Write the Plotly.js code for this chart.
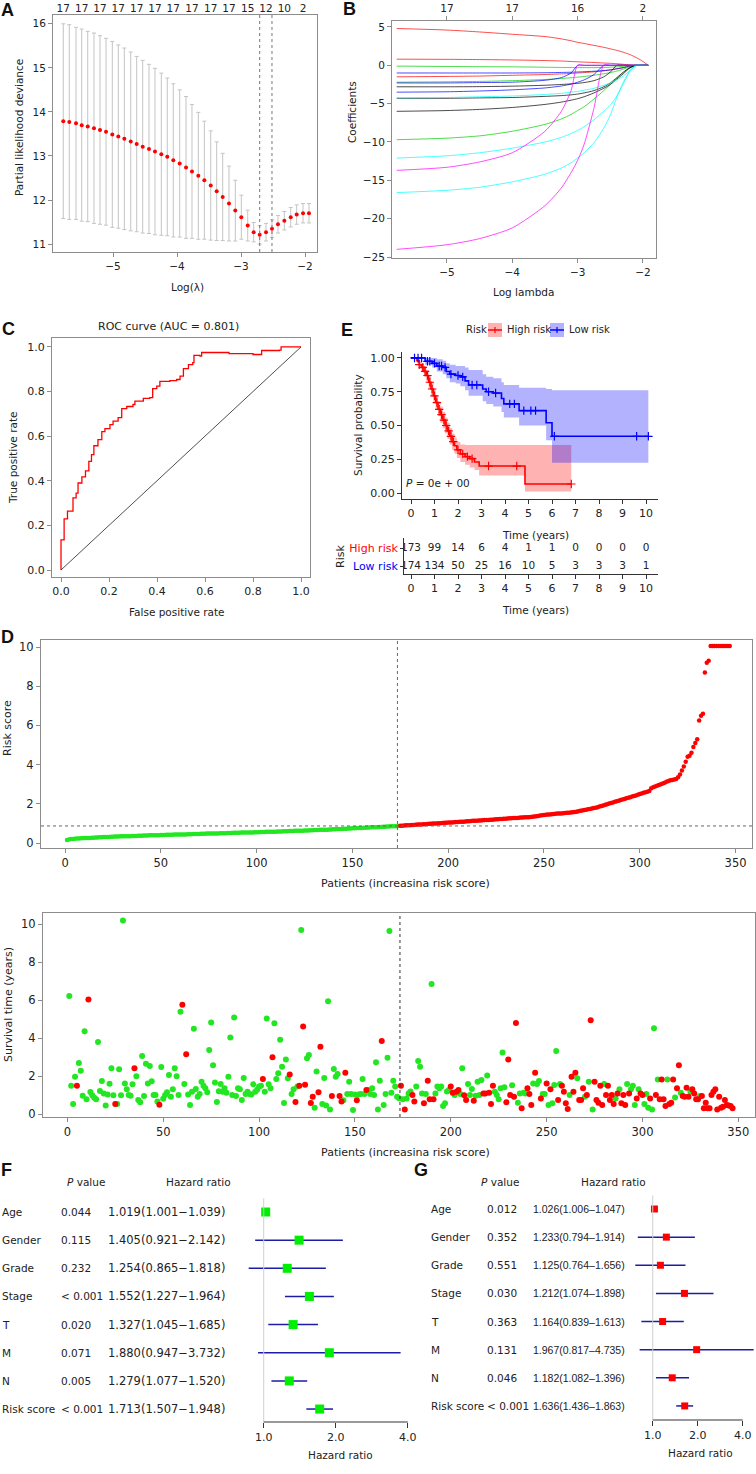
<!DOCTYPE html>
<html>
<head>
<meta charset="utf-8">
<script src="https://cdn.plot.ly/plotly-3.0.1.min.js"></script>
<style>html,body{margin:0;padding:0;background:#fff}#fig{width:756px;height:1474px}</style>
</head>
<body>
<div id="fig"></div>
<script>
"use strict";
const W = 756, H = 1474;
const FONT = "DejaVu Sans, Verdana, sans-serif";
const ARIAL = "Liberation Sans, Arial, sans-serif";
const RED = "#ff0000", GREEN = "#22e622", NAVY = "#1c1ca8";

// ---- A: cross-validated partial likelihood deviance
const aLogLambda = [-5.777,-5.683,-5.578,-5.489,-5.395,-5.297,-5.203,-5.109,-5.011,-4.917,
  -4.823,-4.723,-4.630,-4.536,-4.438,-4.344,-4.245,-4.152,-4.058,-3.958,
  -3.859,-3.766,-3.667,-3.573,-3.473,-3.380,-3.286,-3.188,-3.089,-2.995,
  -2.895,-2.802,-2.708,-2.609,-2.516,-2.422,-2.323,-2.223,-2.130,-2.031,-1.938];
const aDeviance = [13.79,13.77,13.74,13.70,13.67,13.63,13.59,13.55,13.49,13.44,
  13.39,13.33,13.27,13.21,13.16,13.10,13.04,12.98,12.90,12.83,
  12.74,12.65,12.55,12.45,12.33,12.20,12.07,11.92,11.76,11.61,
  11.42,11.27,11.21,11.27,11.35,11.45,11.53,11.61,11.67,11.70,11.70];
const aDevSE = [2.21,2.21,2.18,2.18,2.16,2.16,2.14,2.12,2.11,2.08,
  2.06,2.03,1.99,1.96,1.92,1.89,1.84,1.79,1.74,1.67,
  1.61,1.52,1.44,1.34,1.24,1.12,0.99,0.85,0.69,0.50,
  0.35,0.22,0.21,0.20,0.20,0.20,0.21,0.22,0.22,0.22,0.22];
const aTopLL = [-5.777,-5.489,-5.203,-4.917,-4.630,-4.344,-4.058,-3.766,-3.473,-3.188,-2.895,-2.609,-2.323,-2.031];
const aTopCount = ["17","17","17","17","17","17","17","17","17","17","15","12","10","2"];
const aLambdaMin = -2.708, aLambda1se = -2.516;

// ---- B: lasso coefficient paths
const bLogLambda = [-5.77,-5.0,-4.5,-4.0,-3.5,-3.25,-3.1,-3.0,-2.9,-2.75,-2.6,-2.5,-2.4,-2.3,-2.2,-2.1,-2.0,-1.92];
const coefRedA = [4.8,4.6,4.35,4.05,3.75,3.45,3.2,3.0,2.85,2.6,2.35,2.15,1.95,1.7,1.4,1.0,0.5,0];
const coefRedB = [0.8,0.78,0.75,0.7,0.62,0.56,0.5,0.46,0.42,0.37,0.3,0.26,0.2,0.13,0.05,0,0,0];
const coefRedC = [-1.5,-1.45,-1.4,-1.3,-1.2,-1.12,-1.06,-1.0,-0.95,-0.85,-0.72,-0.6,-0.45,-0.3,-0.1,0,0,0];
const coefGreenA = [-0.1,-0.15,-0.18,-0.2,-0.25,-0.28,-0.29,-0.3,-0.3,-0.3,-0.28,-0.25,-0.2,-0.13,-0.05,0,0,0];
const coefGreenB = [-2.2,-2.15,-2.1,-2.0,-1.85,-1.72,-1.62,-1.55,-1.45,-1.3,-1.1,-0.95,-0.75,-0.5,-0.2,0,0,0];
const coefGreenC = [-9.7,-9.5,-9.2,-8.6,-7.7,-7.0,-6.4,-5.9,-5.4,-4.4,-3.3,-2.5,-1.7,-0.9,-0.3,0,0,0];
const coefBlueA = [-1.0,-1.0,-1.0,-1.0,-0.97,-0.93,-0.9,-0.87,-0.83,-0.77,-0.68,-0.6,-0.45,-0.3,-0.1,0,0,0];
const coefBlueB = [-2.3,-2.3,-2.25,-2.2,-1.95,-1.6,-1.0,0,0,0,0,0,0,0,0,0,0,0];
const coefBlueC = [-3.5,-3.45,-3.35,-3.2,-2.95,-2.7,-2.45,-2.2,-1.9,-1.2,0,0,0,0,0,0,0,0];
const coefBlackA = [-2.8,-2.8,-2.78,-2.72,-2.6,-2.5,-2.42,-2.35,-2.25,-2.0,-1.5,-0.9,0,0,0,0,0,0];
const coefBlackB = [-4.3,-4.3,-4.25,-4.2,-4.05,-3.95,-3.85,-3.75,-3.6,-3.3,-2.8,-2.3,-1.6,-0.9,-0.3,0,0,0];
const coefBlackC = [-6.0,-5.9,-5.75,-5.5,-5.1,-4.8,-4.55,-4.35,-4.1,-3.6,-3.0,-2.5,-1.8,-1.1,-0.35,0,0,0];
const coefCyanA = [-4.25,-4.2,-4.1,-4.0,-3.8,-3.65,-3.5,-3.4,-3.25,-3.0,-2.6,-2.3,-1.9,-1.4,-0.7,0,0,0];
const coefCyanB = [-12.1,-11.8,-11.4,-10.8,-10.0,-9.4,-8.9,-8.5,-8.0,-7.1,-6.0,-5.2,-4.0,-2.4,-0.8,0,0,0];
const coefCyanC = [-16.6,-16.3,-15.9,-15.2,-14.2,-13.4,-12.7,-12.1,-11.4,-10.1,-8.2,-6.5,-4.2,-2.2,-0.7,0,0,0];
const coefMagentaA = [-13.7,-13.3,-12.6,-11.4,-8.6,-6.0,-3.3,0,0,0,0,0,0,0,0,0,0,0];
const coefMagentaB = [-24.0,-23.4,-22.6,-21.2,-18.3,-16.0,-14.0,-12.4,-10.3,-5.6,0,0,0,0,0,0,0,0];
const bTopTicks = [-5,-4,-3,-2];
const bTopCount = ["17","17","16","2"];

// ---- C: ROC curve
const rocFpr = [0,0,0.013,0.013,0.027,0.027,0.047,0.05,0.063,0.071,0.087,0.087,0.102,0.102,0.113,0.116,0.127,0.137,
  0.154,0.154,0.17,0.183,0.204,0.217,0.238,0.253,0.274,0.3,0.308,0.343,0.37,0.382,0.399,0.412,0.454,0.482,0.496,
  0.51,0.531,0.549,0.554,0.579,0.586,0.62,0.7,0.8,0.829,0.836,0.91,0.917,0.996,1];
const rocTpr = [0,0.135,0.135,0.229,0.229,0.264,0.264,0.323,0.345,0.39,0.39,0.417,0.417,0.444,0.444,0.487,0.517,0.557,
  0.557,0.584,0.62,0.634,0.652,0.667,0.683,0.723,0.733,0.742,0.757,0.769,0.773,0.813,0.824,0.846,0.849,0.854,0.869,
  0.903,0.921,0.93,0.962,0.959,0.975,0.975,0.97,0.966,0.966,0.984,0.986,1.0,1.0,1.0];
const rocAuc = 0.801;

// ---- E: Kaplan-Meier by risk group
const highTime = [0,0.25,0.35,0.45,0.55,0.65,0.75,0.85,0.95,1.05,1.15,1.25,1.35,1.45,1.55,1.65,1.75,1.85,1.95,2.1,2.3,2.5,2.7,2.9,4.85,6.82];
const highSurv = [1.0,0.98,0.95,0.93,0.9,0.87,0.82,0.77,0.72,0.67,0.62,0.58,0.54,0.5,0.46,0.42,0.38,0.35,0.32,0.29,0.27,0.255,0.23,0.2,0.067,0.067];
const highUpper = [1.0,1.0,0.98,0.96,0.94,0.91,0.87,0.82,0.77,0.72,0.68,0.64,0.6,0.56,0.52,0.48,0.44,0.41,0.38,0.36,0.355,0.355,0.355,0.355,0.355,0.355];
const highLower = [1.0,0.96,0.92,0.9,0.86,0.83,0.77,0.72,0.67,0.62,0.57,0.52,0.48,0.44,0.4,0.36,0.32,0.29,0.26,0.23,0.21,0.19,0.17,0.13,0.012,0.012];
const lowTime = [0,0.6,0.9,1.1,1.35,1.5,1.65,1.9,2.1,2.3,2.45,3.05,3.2,3.5,3.85,3.95,4.6,5.75,6.0,10.1];
const lowSurv = [1.0,0.975,0.96,0.94,0.93,0.9,0.88,0.87,0.86,0.83,0.8,0.77,0.75,0.74,0.7,0.66,0.61,0.52,0.42,0.42];
const lowUpper = [1.0,1.0,1.0,0.99,0.98,0.96,0.95,0.94,0.94,0.93,0.91,0.88,0.86,0.85,0.82,0.8,0.78,0.77,0.76,0.76];
const lowLower = [1.0,0.95,0.93,0.9,0.88,0.85,0.82,0.81,0.79,0.76,0.72,0.68,0.66,0.64,0.6,0.56,0.5,0.39,0.225,0.225];
const highCensor = [0.35,0.5,0.6,0.7,0.8,0.9,1.0,1.1,1.2,1.3,1.4,1.5,1.6,1.7,1.8,2.0,2.2,2.4,2.6,3.3,4.5,6.82];
const lowCensor = [0.15,0.3,0.45,0.7,0.8,1.0,1.2,1.3,1.45,1.7,2.0,2.2,2.6,2.8,3.3,3.6,4.2,4.4,4.8,5.1,5.3,6.1,9.6,10.1];
const tableTimes = [0,1,2,3,4,5,6,7,8,9,10];
const highAtRisk = [173,99,14,6,4,1,1,0,0,0,0];
const lowAtRisk = [174,134,50,25,16,10,5,3,3,3,1];
const logRankP = "0e + 00";

// ---- D: risk score distribution and survival status (patients ranked by risk)
const lowCount = 174;
const riskCutoff = 0.87;
const riskScore = [
  0.15,0.18,0.2,0.21,0.22,0.23,0.23,0.24,0.24,0.25,
  0.25,0.26,0.26,0.27,0.27,0.28,0.28,0.29,0.29,0.3,
  0.3,0.31,0.31,0.32,0.32,0.33,0.33,0.33,0.34,0.34,
  0.34,0.35,0.35,0.35,0.36,0.36,0.36,0.37,0.37,0.37,
  0.38,0.38,0.38,0.39,0.39,0.39,0.4,0.4,0.4,0.41,
  0.41,0.41,0.42,0.42,0.42,0.42,0.43,0.43,0.43,0.44,
  0.44,0.44,0.44,0.45,0.45,0.45,0.46,0.46,0.46,0.46,
  0.47,0.47,0.47,0.48,0.48,0.48,0.48,0.49,0.49,0.49,
  0.5,0.5,0.5,0.5,0.51,0.51,0.51,0.52,0.52,0.52,
  0.52,0.53,0.53,0.53,0.53,0.54,0.54,0.54,0.55,0.55,
  0.55,0.56,0.56,0.56,0.57,0.57,0.57,0.58,0.58,0.58,
  0.59,0.59,0.59,0.6,0.6,0.6,0.61,0.61,0.61,0.62,
  0.62,0.62,0.63,0.63,0.64,0.64,0.64,0.65,0.65,0.66,
  0.66,0.66,0.67,0.67,0.68,0.68,0.68,0.69,0.69,0.7,
  0.7,0.71,0.71,0.72,0.72,0.73,0.73,0.74,0.74,0.75,
  0.75,0.76,0.76,0.77,0.77,0.78,0.78,0.79,0.79,0.8,
  0.8,0.81,0.81,0.82,0.82,0.83,0.83,0.84,0.84,0.85,
  0.85,0.86,0.86,0.87,0.88,0.88,0.89,0.9,0.9,0.91,
  0.92,0.92,0.93,0.94,0.94,0.95,0.96,0.96,0.97,0.98,
  0.98,0.99,1.0,1.0,1.01,1.01,1.02,1.03,1.03,1.04,
  1.05,1.05,1.06,1.07,1.07,1.08,1.09,1.09,1.1,1.11,
  1.11,1.12,1.13,1.13,1.14,1.15,1.15,1.16,1.17,1.17,
  1.18,1.19,1.19,1.2,1.21,1.21,1.22,1.23,1.24,1.24,
  1.25,1.26,1.26,1.27,1.28,1.28,1.29,1.3,1.3,1.31,
  1.32,1.32,1.33,1.34,1.35,1.36,1.38,1.4,1.41,1.43,
  1.44,1.45,1.46,1.47,1.48,1.49,1.5,1.5,1.51,1.52,
  1.53,1.54,1.55,1.56,1.57,1.58,1.6,1.62,1.64,1.66,
  1.68,1.7,1.72,1.74,1.76,1.78,1.8,1.83,1.86,1.89,
  1.92,1.95,1.98,2.01,2.04,2.07,2.1,2.13,2.16,2.19,
  2.22,2.25,2.28,2.31,2.34,2.37,2.4,2.43,2.46,2.5,
  2.53,2.56,2.59,2.62,2.65,2.8,2.85,2.88,2.92,2.96,
  3.0,3.04,3.08,3.12,3.16,3.2,3.22,3.24,3.26,3.35,
  3.5,3.7,3.9,4.15,4.4,4.45,4.6,4.9,5.1,5.3,
  6.25,6.5,6.6,8.7,9.2,9.3,10.05,10.05,10.05,10.05,
  10.05,10.05,10.05,10.05,10.05,10.05,10.05];
const survYears = [
  6.23,1.5,0.54,1.98,1.5,2.7,2.3,0.98,4.37,0.79,
  6.04,1.18,1.0,0.88,0.79,3.81,1.23,1.75,1.1,0.46,
  1.05,1.61,2.42,1.0,0.54,0.54,2.37,1.0,10.2,1.63,
  1.32,1.02,0.98,1.58,2.42,2.0,0.75,0.63,3.07,0.96,
  2.67,1.63,2.54,1.74,1.02,1.02,0.67,0.51,2.49,0.82,
  1.02,1.16,2.07,0.93,1.32,2.42,2.0,1.02,5.4,5.77,
  1.6,3.16,1.04,0.49,1.19,4.5,1.33,0.93,1.07,1.72,
  1.5,1.37,1.16,3.39,4.84,2.58,1.67,0.65,1.21,1.6,
  1.19,1.37,1.14,1.98,4.05,1.02,5.1,0.96,1.37,1.32,
  0.75,1.91,1.07,1.19,1.07,1.04,1.58,1.19,1.3,1.46,
  1.5,1.86,1.19,5.05,1.58,1.37,3.0,4.8,1.86,2.16,
  3.93,2.51,0.6,2.89,1.9,2.1,1.07,1.32,0.65,1.46,
  1.5,9.7,4.63,1.56,2.95,3.12,0.6,0.93,0.35,2.25,
  1.16,3.56,0.54,1.91,0.46,5.95,0.26,0.96,2.39,1.98,
  2.12,0.96,0.67,0.74,2.19,1.07,1.72,1.07,0.23,1.05,
  0.74,1.05,1.07,1.86,1.07,1.28,1.28,1.07,1.37,1.02,
  2.74,0.26,1.77,3.86,0.49,1.07,2.98,9.65,1.14,1.77,
  1.46,0.93,0.85,1.5,0.79,0.26,0.84,1.1,1.2,1.02,
  0.67,1.46,2.81,2.51,1.1,0.58,1.07,1.77,0.79,6.86,
  0.79,1.1,1.46,1.37,1.46,0.44,0.58,1.2,1.28,1.46,
  1.14,1.02,1.19,1.28,1.07,2.42,1.0,0.75,1.6,1.02,
  1.33,0.72,0.98,1.72,1.02,1.81,1.1,1.1,2.04,1.14,
  0.54,1.51,1.19,1.02,0.79,1.37,3.26,1.42,0.63,2.89,
  1.02,1.53,0.93,4.81,0.61,1.1,0.32,1.14,1.1,1.37,
  1.07,0.49,1.63,2.19,1.6,1.75,0.84,1.07,1.07,1.63,
  0.49,1.32,0.58,1.54,3.33,0.75,1.6,1.51,1.19,0.58,
  0.28,1.02,1.98,1.19,2.19,1.9,0.75,0.75,1.37,0.93,
  1.02,1.72,4.96,0.26,1.72,0.75,0.61,1.51,0.49,1.6,
  1.02,1.51,0.75,1.02,0.54,0.84,1.1,1.32,0.58,1.02,
  0.49,1.6,1.1,1.32,1.51,0.49,0.84,1.32,1.1,1.02,
  0.54,1.07,0.35,0.84,0.26,4.53,1.02,1.84,0.79,1.84,
  0.79,0.44,1.84,0.54,0.61,1.84,0.89,1.37,2.58,1.14,
  0.96,0.93,1.4,0.93,1.19,1.32,1.1,0.79,0.79,0.96,
  0.96,0.32,0.61,0.32,0.32,1.02,1.19,1.32,0.26,0.93,
  0.35,0.4,0.75,0.49,0.46,0.44,0.32];
const survDead = [
  0,0,0,0,1,0,0,0,0,0, 1,0,0,0,0,0,0,0,0,0, 0,0,0,0,1,0,0,0,0,0, 0,0,0,0,1,0,0,0,0,0,
  0,0,0,0,0,0,0,1,0,0, 0,0,0,0,0,0,0,0,0,1, 0,1,0,0,0,0,0,0,0,0, 0,0,0,0,0,0,0,0,0,0,
  0,0,0,0,0,0,0,0,0,0, 0,0,0,0,0,0,0,0,0,0, 0,1,0,0,0,0,1,0,0,0, 0,0,0,0,0,1,0,0,1,0,
  1,0,1,1,0,0,1,1,0,0, 1,1,0,0,0,0,0,1,0,0, 0,1,1,0,1,0,0,0,0,0, 1,0,0,0,0,1,0,0,0,0,
  0,0,0,1,0,0,0,0,0,0, 0,0,0,1,0,1,0,0,0,1, 1,0,0,0,0,1,0,1,1,0, 1,0,0,0,0,0,0,0,0,1,
  1,0,1,1,0,0,1,1,0,0, 0,1,0,0,0,0,1,1,0,1, 1,1,0,0,0,0,0,0,1,1, 1,0,1,1,0,0,1,0,0,1,
  1,1,0,1,0,0,1,0,0,1, 0,1,0,0,0,1,0,1,1,1, 1,0,1,1,1,0,1,1,1,0, 1,0,1,0,1,1,1,1,1,0,
  1,1,1,1,1,0,1,0,1,1, 1,0,1,0,0,0,1,0,1,1, 0,0,0,1,0,0,1,0,1,1, 1,1,0,1,1,1,0,1,1,0,
  1,1,1,1,0,1,1,1,1,0, 1,1,1,1,1,1,1,1,1,1, 1,1,1,1,1,1,1];

// ---- F: univariate Cox
const forestVars = ["Age","Gender","Grade","Stage","T","M","N","Risk score"];
const fP = ["0.044","0.115","0.232","< 0.001","0.020","0.071","0.005","< 0.001"];
const fHr = [1.019,1.405,1.254,1.552,1.327,1.880,1.279,1.713];
const fLo = [1.001,0.921,0.865,1.227,1.045,0.947,1.077,1.507];
const fHi = [1.039,2.142,1.818,1.964,1.685,3.732,1.520,1.948];

// ---- G: multivariate Cox (printed text and drawn marks as they appear)
const gP = ["0.012","0.352","0.551","0.030","0.363","0.131","0.046","< 0.001"];
const gHr = [1.026,1.233,1.125,1.212,1.164,1.967,1.182,1.636];
const gLo = [1.006,0.794,0.764,1.074,0.839,0.817,1.082,1.436];
const gHi = [1.047,1.914,1.656,1.898,1.613,4.735,1.396,1.863];
const gMarkHr = [1.026,1.233,1.125,1.63,1.164,1.967,1.35,1.636];
const gMarkLo = [1.006,0.794,0.764,1.05,0.839,0.817,1.05,1.436];
const gMarkHi = [1.047,1.914,1.656,2.55,1.613,4.735,1.75,1.863];

// ---------- helpers
const dx = (l, r) => [l / W, r / W];
const dy = (t, b) => [1 - b / H, 1 - t / H];
function note(x, y, text, o) {
  o = o || {};
  return Object.assign({xref: "paper", yref: "paper", x: x / W, y: 1 - y / H, text: text,
    showarrow: false, xanchor: "center", yanchor: "middle",
    font: {family: FONT, size: 10, color: "#222"}}, o);
}
function stepAt(ts, ss, t) {
  let v = ss[0];
  for (let i = 0; i < ts.length; i++) if (ts[i] <= t) v = ss[i];
  return v;
}
const rows = forestVars.map((v, i) => i + 1);
const fmt = v => v.toFixed(3);
const tf = s => ({family: FONT, size: s, color: "#222"});

const boxAx = {showline: true, mirror: true, linecolor: "#8c8c8c", linewidth: 1, ticks: "outside",
  ticklen: 4, tickcolor: "#8c8c8c", showgrid: false, zeroline: false, tickfont: tf(10.5)};
const classicAx = {showline: true, mirror: false, linecolor: "#333", linewidth: 1, ticks: "outside",
  ticklen: 4, tickcolor: "#333", showgrid: false, zeroline: false, tickfont: tf(11)};

const traces = [];

// A
traces.push({type: "scatter", mode: "markers", x: aLogLambda, y: aDeviance, xaxis: "x", yaxis: "y",
  marker: {color: RED, size: 4},
  error_y: {type: "data", array: aDevSE, color: "#c4c4c4", thickness: 1, width: 2}});
traces.push({type: "scatter", mode: "markers", x: aTopLL, y: aTopLL.map(() => null), xaxis: "x2", yaxis: "y",
  hoverinfo: "skip"});

// B
const bPaths = [
  [coefRedA, "#ff0000"], [coefRedB, "#ff0000"], [coefRedC, "#ff0000"],
  [coefGreenA, "#00cd00"], [coefGreenB, "#00cd00"], [coefGreenC, "#00cd00"],
  [coefBlueA, "#0000ff"], [coefBlueB, "#0000ff"], [coefBlueC, "#0000ff"],
  [coefBlackA, "#000000"], [coefBlackB, "#000000"], [coefBlackC, "#000000"],
  [coefCyanA, "#00ffff"], [coefCyanB, "#00ffff"], [coefCyanC, "#00ffff"],
  [coefMagentaA, "#ff00ff"], [coefMagentaB, "#ff00ff"]];
bPaths.forEach(p => traces.push({type: "scatter", mode: "lines", x: bLogLambda, y: p[0],
  xaxis: "x3", yaxis: "y3", line: {color: p[1], width: 1, shape: "spline", smoothing: 0.7}, opacity: 0.7}));
traces.push({type: "scatter", mode: "markers", x: bTopTicks, y: bTopTicks.map(() => null), xaxis: "x4", yaxis: "y3",
  hoverinfo: "skip"});

// C
traces.push({type: "scatter", mode: "lines", x: rocFpr, y: rocTpr, xaxis: "x5", yaxis: "y5",
  line: {color: RED, width: 1.3, shape: "hv"}});

// E bands and curves
traces.push({type: "scatter", mode: "lines", x: highTime, y: highLower, xaxis: "x6", yaxis: "y6",
  line: {width: 0, shape: "hv"}, hoverinfo: "skip"});
traces.push({type: "scatter", mode: "lines", x: highTime, y: highUpper, xaxis: "x6", yaxis: "y6",
  line: {width: 0, shape: "hv"}, fill: "tonexty", fillcolor: "rgba(255,0,0,0.3)", hoverinfo: "skip"});
traces.push({type: "scatter", mode: "lines", x: lowTime, y: lowLower, xaxis: "x6", yaxis: "y6",
  line: {width: 0, shape: "hv"}, hoverinfo: "skip"});
traces.push({type: "scatter", mode: "lines", x: lowTime, y: lowUpper, xaxis: "x6", yaxis: "y6",
  line: {width: 0, shape: "hv"}, fill: "tonexty", fillcolor: "rgba(0,0,255,0.3)", hoverinfo: "skip"});
traces.push({type: "scatter", mode: "lines", x: highTime, y: highSurv, xaxis: "x6", yaxis: "y6",
  line: {color: RED, width: 1.6, shape: "hv"}});
traces.push({type: "scatter", mode: "lines", x: lowTime, y: lowSurv, xaxis: "x6", yaxis: "y6",
  line: {color: "#0000ff", width: 1.6, shape: "hv"}});
traces.push({type: "scatter", mode: "markers", x: highCensor, y: highCensor.map(t => stepAt(highTime, highSurv, t)),
  xaxis: "x6", yaxis: "y6", marker: {symbol: "cross-thin", size: 6, line: {color: RED, width: 1.2}}});
traces.push({type: "scatter", mode: "markers", x: lowCensor, y: lowCensor.map(t => stepAt(lowTime, lowSurv, t)),
  xaxis: "x6", yaxis: "y6", marker: {symbol: "cross-thin", size: 6, line: {color: "#0000ff", width: 1.2}}});

// E risk table
traces.push({type: "scatter", mode: "text", x: tableTimes, y: tableTimes.map(() => 2), text: highAtRisk.map(String),
  xaxis: "x7", yaxis: "y7", textfont: tf(10.5)});
traces.push({type: "scatter", mode: "text", x: tableTimes, y: tableTimes.map(() => 1), text: lowAtRisk.map(String),
  xaxis: "x7", yaxis: "y7", textfont: tf(10.5)});

// D top: risk score
const rank = riskScore.map((v, i) => i + 1);
traces.push({type: "scatter", mode: "markers", x: rank.slice(0, lowCount), y: riskScore.slice(0, lowCount),
  xaxis: "x8", yaxis: "y8", marker: {color: GREEN, size: 4.5}});
traces.push({type: "scatter", mode: "markers", x: rank.slice(lowCount), y: riskScore.slice(lowCount),
  xaxis: "x8", yaxis: "y8", marker: {color: RED, size: 4.5}});

// D bottom: survival status
const aliveX = [], aliveY = [], deadX = [], deadY = [];
survYears.forEach((t, i) => {
  if (survDead[i]) { deadX.push(i + 1); deadY.push(t); } else { aliveX.push(i + 1); aliveY.push(t); }
});
traces.push({type: "scatter", mode: "markers", x: aliveX, y: aliveY, xaxis: "x9", yaxis: "y9",
  marker: {color: GREEN, size: 6}});
traces.push({type: "scatter", mode: "markers", x: deadX, y: deadY, xaxis: "x9", yaxis: "y9",
  marker: {color: RED, size: 6}});

// F and G forest marks
traces.push({type: "scatter", mode: "markers", x: fHr, y: rows, xaxis: "x10", yaxis: "y10",
  marker: {symbol: "square", size: 9, color: "#00ee00"},
  error_x: {type: "data", symmetric: false, array: fHi.map((v, i) => v - fHr[i]),
    arrayminus: fLo.map((v, i) => fHr[i] - v), color: NAVY, thickness: 1.5, width: 0}});
traces.push({type: "scatter", mode: "markers", x: gMarkHr, y: rows, xaxis: "x11", yaxis: "y11",
  marker: {symbol: "square", size: 7, color: RED},
  error_x: {type: "data", symmetric: false, array: gMarkHi.map((v, i) => v - gMarkHr[i]),
    arrayminus: gMarkLo.map((v, i) => gMarkHr[i] - v), color: NAVY, thickness: 1.5, width: 0}});

// ---------- layout
const ticks10 = [0,1,2,3,4,5,6,7,8,9,10];
const forestX = {type: "log", tickvals: [1, 2, 4], ticktext: ["1.0", "2.0", "4.0"], ticks: "outside",
  ticklen: 5, tickcolor: "#333", showline: false, showgrid: false, zeroline: false, tickfont: tf(11)};
const dTick = tf(11.5);

const layout = {
  width: W, height: H, margin: {l: 0, r: 0, t: 0, b: 0},
  paper_bgcolor: "#fff", plot_bgcolor: "rgba(0,0,0,0)", showlegend: false,
  font: {family: FONT, size: 10, color: "#222"},
  xaxis: Object.assign({}, boxAx, {domain: dx(53, 317), range: [-5.9375, -1.8125], tickvals: [-5, -4, -3, -2], anchor: "y"}),
  yaxis: Object.assign({}, boxAx, {domain: dy(15, 252), range: [10.82, 16.2], tickvals: [11, 12, 13, 14, 15, 16], anchor: "x"}),
  xaxis2: {overlaying: "x", side: "top", anchor: "y", range: [-5.9375, -1.8125], tickvals: aTopLL, ticktext: aTopCount,
    ticks: "", showline: false, showgrid: false, zeroline: false, tickfont: tf(10.5)},
  xaxis3: Object.assign({}, boxAx, {domain: dx(392, 656), range: [-5.842, -1.80], tickvals: [-5, -4, -3, -2], anchor: "y3"}),
  yaxis3: Object.assign({}, boxAx, {domain: dy(21, 258), range: [-25.13, 5.78], tickvals: [5, 0, -5, -10, -15, -20, -25], anchor: "x3"}),
  xaxis4: {overlaying: "x3", side: "top", anchor: "y3", range: [-5.842, -1.80], tickvals: bTopTicks, ticktext: bTopCount,
    ticks: "outside", ticklen: 4, tickcolor: "#8c8c8c", showline: false, showgrid: false, zeroline: false, tickfont: tf(10.5)},
  xaxis5: Object.assign({}, boxAx, {domain: dx(52, 310), range: [-0.0375, 1.0375], tickvals: [0, 0.2, 0.4, 0.6, 0.8, 1],
    tickformat: ".1f", anchor: "y5", tickfont: tf(11)}),
  yaxis5: Object.assign({}, boxAx, {domain: dy(338, 577), range: [-0.0314, 1.04], tickvals: [0, 0.2, 0.4, 0.6, 0.8, 1],
    tickformat: ".1f", anchor: "x5", tickfont: tf(11)}),
  xaxis6: Object.assign({}, classicAx, {domain: dx(402, 658), range: [-0.383, 10.51], tickvals: ticks10, anchor: "y6"}),
  yaxis6: Object.assign({}, classicAx, {domain: dy(352, 499), range: [-0.044, 1.044], tickvals: [0, 0.25, 0.5, 0.75, 1], tickformat: ".2f", anchor: "x6"}),
  xaxis7: Object.assign({}, classicAx, {domain: dx(404, 658), range: [-0.298, 10.51], tickvals: ticks10, anchor: "y7"}),
  yaxis7: Object.assign({}, classicAx, {domain: dy(538, 574), range: [0.556, 2.56], tickvals: [1, 2], ticklen: 3,
    ticktext: ['<span style="color:#0000ff">Low risk</span>', '<span style="color:#ff0000">High risk</span>'], anchor: "x7"}),
  xaxis8: Object.assign({}, boxAx, {domain: dx(41, 752), range: [-12.57, 358.6], tickvals: [0, 50, 100, 150, 200, 250, 300, 350], anchor: "y8", tickfont: dTick}),
  yaxis8: Object.assign({}, boxAx, {domain: dy(640, 848), range: [-0.255, 10.36], tickvals: [0, 2, 4, 6, 8, 10], anchor: "x8", tickfont: dTick}),
  xaxis9: Object.assign({}, boxAx, {domain: dx(43, 755), range: [-12.7, 358.7], tickvals: [0, 50, 100, 150, 200, 250, 300, 350], anchor: "y9", tickfont: dTick}),
  yaxis9: Object.assign({}, boxAx, {domain: dy(913, 1117), range: [-0.14, 10.6], tickvals: [0, 2, 4, 6, 8, 10], anchor: "x9", tickfont: dTick}),
  xaxis10: Object.assign({}, forestX, {domain: dx(240, 420), range: [-0.0991, 0.653], anchor: "y10"}),
  yaxis10: {domain: dy(1195, 1422), range: [8.46, 0.396], visible: false, anchor: "x10"},
  xaxis11: Object.assign({}, forestX, {domain: dx(625, 756), range: [-0.1858, 0.691], anchor: "y11"}),
  yaxis11: {domain: dy(1192, 1420), range: [8.5, 0.396], visible: false, anchor: "x11"},
  shapes: [], annotations: []
};

const S = layout.shapes, A = layout.annotations;
// A: lambda.min and lambda.1se
[aLambdaMin, aLambda1se].forEach(v => S.push({type: "line", xref: "x", yref: "y domain", x0: v, x1: v, y0: 0, y1: 1,
  line: {color: "#777", width: 1, dash: "dot"}}));
// C: chance diagonal
S.push({type: "line", xref: "x5", yref: "y5", x0: 0, y0: 0, x1: 1, y1: 1, line: {color: "#222", width: 0.8}});
// D: cut-off lines
S.push({type: "line", xref: "x8", yref: "y8 domain", x0: lowCount - 0.5, x1: lowCount - 0.5, y0: 0, y1: 1,
  line: {color: "#666", width: 1, dash: "dot"}});
S.push({type: "line", xref: "x8 domain", yref: "y8", x0: 0, x1: 1, y0: riskCutoff, y1: riskCutoff,
  line: {color: "#666", width: 1, dash: "dot"}});
S.push({type: "line", xref: "x9", yref: "y9 domain", x0: lowCount - 0.5, x1: lowCount - 0.5, y0: 0, y1: 1,
  line: {color: "#333", width: 1, dash: "dot"}});
// F, G: reference line and axis line
[["x10", "y10"], ["x11", "y11"]].forEach(p => {
  S.push({type: "line", xref: p[0], yref: p[1] + " domain", x0: 1, x1: 1, y0: 0, y1: 0.985, line: {color: "#cfcfcf", width: 1}});
  S.push({type: "line", xref: p[0], yref: p[1] + " domain", x0: 1, x1: 4, y0: 0, y1: 0, line: {color: "#333", width: 1}});
});
// E legend keys
[[488, "rgba(255,0,0,0.3)", RED], [550, "rgba(0,0,255,0.3)", "#0000ff"]].forEach(k => {
  const x0 = k[0] / W, x1 = (k[0] + 14) / W;
  S.push({type: "rect", xref: "paper", yref: "paper", x0: x0, x1: x1, y0: 1 - 337 / H, y1: 1 - 323 / H,
    fillcolor: k[1], line: {width: 0}});
  S.push({type: "line", xref: "paper", yref: "paper", x0: x0, x1: x1, y0: 1 - 330 / H, y1: 1 - 330 / H,
    line: {color: k[2], width: 1.5}});
  S.push({type: "line", xref: "paper", yref: "paper", x0: (x0 + x1) / 2, x1: (x0 + x1) / 2, y0: 1 - 333 / H, y1: 1 - 327 / H,
    line: {color: k[2], width: 1.2}});
});

// panel letters
const letter = {family: ARIAL, size: 18, color: "#111", weight: "bold"};
[["A", 7, 10], ["B", 349, 9], ["C", 8, 329], ["E", 347, 330], ["D", 7, 637], ["F", 6, 1170], ["G", 421, 1170]]
  .forEach(l => A.push(note(l[1], l[2], "<b>" + l[0] + "</b>", {font: letter})));

// axis titles
A.push(note(19, 128, "Partial likelihood deviance", {textangle: -90, font: tf(10.5)}));
A.push(note(187, 287, "Log(λ)", {font: tf(10.5)}));
A.push(note(352, 112, "Coefficients", {textangle: -90, font: tf(10.5)}));
A.push(note(523, 292, "Log lambda", {font: tf(10.5)}));
A.push(note(168, 326, "ROC curve (AUC = " + rocAuc.toFixed(3) + ")", {font: tf(11)}));
A.push(note(13, 458, "True positive rate", {textangle: -90, font: tf(10.5)}));
A.push(note(177, 612, "False positive rate", {font: tf(10.5)}));
A.push(note(358, 425, "Survival probability", {textangle: -90, font: tf(10.5)}));
A.push(note(535, 535, "Time (years)", {font: tf(10.5)}));
A.push(note(535, 610, "Time (years)", {font: tf(10.5)}));
A.push(note(340, 557, "Risk", {textangle: -90, font: tf(11)}));
A.push(note(7, 728, "Risk score", {textangle: -90, font: tf(11)}));
A.push(note(405, 883, "Patients (increasina risk score)", {font: tf(11)}));
A.push(note(9, 1005, "Survival time (years)", {textangle: -90, font: tf(11)}));
A.push(note(405, 1152, "Patients (increasina risk score)", {font: tf(11)}));

// E legend text and p-value
A.push(note(464, 330, "Risk", {xanchor: "left", font: tf(10)}));
A.push(note(505, 330, "High risk", {xanchor: "left", font: tf(10)}));
A.push(note(567, 330, "Low risk", {xanchor: "left", font: tf(10)}));
A.push({xref: "x6", yref: "y6", x: -0.3, y: 0.075, xanchor: "left", yanchor: "middle", showarrow: false,
  text: "<i>P</i> = " + logRankP, font: tf(10.5)});

// F table
const cell = tf(10.5);
A.push(note(86, 1182, "<i>P</i> value", {font: cell}));
A.push(note(198, 1182, "Hazard ratio", {font: cell}));
A.push(note(340, 1455, "Hazard ratio", {font: cell}));
forestVars.forEach((v, i) => {
  const base = {yref: "y10", y: i + 1, xanchor: "left"};
  A.push(Object.assign(note(0, 0, v, {font: cell}), base, {x: 0}));
  A.push(Object.assign(note(0, 0, fP[i], {font: cell}), base, {x: 59 / W}));
  A.push(Object.assign(note(0, 0, fmt(fHr[i]) + "(" + fmt(fLo[i]) + "−" + fmt(fHi[i]) + ")",
    {font: tf(11.5)}), base, {x: 106 / W}));
});
// G table
A.push(note(500, 1182, "<i>P</i> value", {font: cell}));
A.push(note(613, 1182, "Hazard ratio", {font: cell}));
A.push(note(700, 1453, "Hazard ratio", {font: cell}));
forestVars.forEach((v, i) => {
  const base = {yref: "y11", y: i + 1, xanchor: "left"};
  A.push(Object.assign(note(0, 0, v, {font: cell}), base, {x: 429 / W}));
  A.push(Object.assign(note(0, 0, gP[i], {font: cell}), base, {x: 485 / W}));
  A.push(Object.assign(note(0, 0, fmt(gHr[i]) + "(" + fmt(gLo[i]) + "–" + fmt(gHi[i]) + ")",
    {font: {family: ARIAL, size: 10.5, color: "#222"}}), base, {x: 531 / W}));
});

Plotly.newPlot("fig", traces, layout, {staticPlot: true});
</script>
</body>
</html>
